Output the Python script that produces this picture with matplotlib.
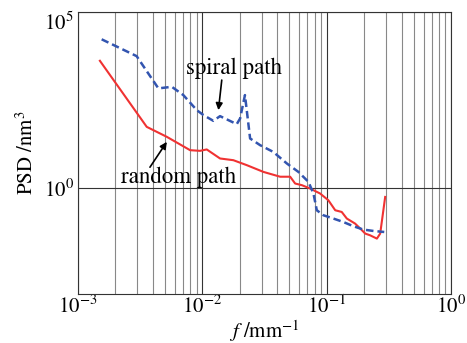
import matplotlib
matplotlib.use("Agg")
import matplotlib.pyplot as plt
from matplotlib.ticker import LogLocator, NullFormatter

plt.rcParams["font.family"] = ["STIXGeneral", "DejaVu Serif"]
plt.rcParams["mathtext.fontset"] = "stix"

# ------------------------------------------------------
# data (f in mm^-1, PSD in nm^3)
# ------------------------------------------------------
spiral_f = [0.00155, 0.00296, 0.00443, 0.00568, 0.00703, 0.00902, 0.0102,
            0.01225, 0.01387, 0.01618, 0.0189, 0.0201, 0.0220, 0.0242,
            0.0291, 0.0372, 0.0478, 0.0592, 0.0713, 0.0782, 0.0832, 0.0940,
            0.113, 0.136, 0.164, 0.197, 0.238, 0.290]
spiral_psd = [1.68e4, 5.6e3, 680, 755, 439, 164, 119,
              81.7, 111, 85.5, 65.8, 95, 439, 25.8,
              16.7, 10.7, 5.03, 2.90, 1.51, 0.707, 0.237, 0.171,
              0.138, 0.110, 0.0833, 0.0671, 0.0612, 0.0573]

random_f = [0.00150, 0.00357, 0.00518, 0.00797, 0.00958, 0.01084, 0.01387,
            0.01775, 0.0228, 0.0310, 0.0422, 0.0508, 0.0557, 0.0631, 0.0735,
            0.0885, 0.103, 0.117, 0.132, 0.145, 0.169, 0.186, 0.204, 0.223,
            0.253, 0.269, 0.295]
random_psd = [4130, 55.1, 28.7, 12.0, 11.5, 12.6, 6.98,
              6.24, 4.50, 2.90, 2.12, 2.12, 1.36, 1.22, 0.98,
              0.707, 0.456, 0.237, 0.212, 0.138, 0.0993, 0.0716, 0.0516, 0.0462,
              0.0372, 0.0516, 0.566]

x_ticks = [1e-3, 1e-2, 1e-1, 1e0]
y_ticks = [1e0, 1e5]

fig = plt.figure(figsize=(4.67, 3.43), dpi=100)
ax = fig.add_axes([0.167, 0.143, 0.799, 0.822])

ax.plot(random_f, random_psd, color="#f03232", lw=1.5)
ax.plot(spiral_f, spiral_psd, color="#3355b0", lw=1.8, ls=(0, (3, 1.6)))

ax.set_xscale("log")
ax.set_yscale("log")
ax.set_xlim(1e-3, 1)
ax.set_ylim(1e-3, 1e5)

# x: grid on every decade step, y: only 10^0 and 10^5
ax.set_xticks(x_ticks)
ax.xaxis.set_minor_locator(LogLocator(base=10, subs=range(2, 10), numticks=20))
ax.xaxis.set_minor_formatter(NullFormatter())
ax.set_yticks(y_ticks)
ax.yaxis.set_minor_locator(plt.NullLocator())

ax.grid(axis="x", which="major", color="#333333", lw=0.8)
ax.grid(axis="x", which="minor", color="#888888", lw=0.8)
ax.grid(axis="y", which="major", color="#333333", lw=0.8)

ax.tick_params(which="both", length=0, labelsize=15)
ax.tick_params(axis="x", pad=1)
ax.tick_params(axis="y", pad=3)
for sp in ax.spines.values():
    sp.set_color("#333333")
    sp.set_linewidth(0.8)

# top label sits just below the frame in the reference
fig.canvas.draw()
ax.get_yticklabels()[-1].set_verticalalignment("top")

ax.set_xlabel("$f$ /mm$^{-1}$", fontsize=15, labelpad=0)
ax.set_ylabel("PSD /nm$^3$", fontsize=15, labelpad=4)

# annotations: text and arrow placed separately
ax.text(0.0178, 2566, "spiral path", fontsize=16.5, ha="center", va="center")
ax.annotate("", xy=(0.01346, 164), xytext=(0.01432, 1170),
            arrowprops=dict(arrowstyle="-|>", color="black", lw=1.2,
                            shrinkA=0, shrinkB=0, mutation_scale=10))
ax.text(0.00638, 2.05, "random path", fontsize=16.5, ha="center", va="center")
ax.annotate("", xy=(0.00518, 20.7), xytext=(0.00379, 3.95),
            arrowprops=dict(arrowstyle="-|>", color="black", lw=1.2,
                            shrinkA=0, shrinkB=0, mutation_scale=10))

fig.savefig("out.png", dpi=100)
